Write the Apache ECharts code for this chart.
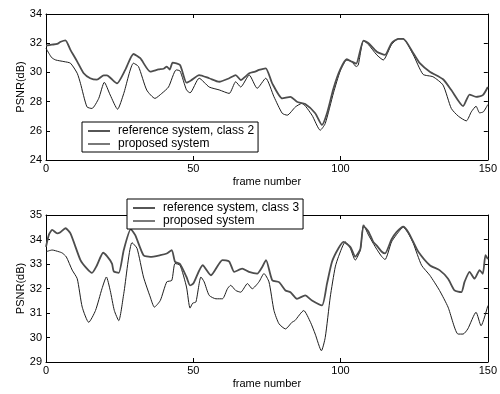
<!DOCTYPE html>
<html>
<head>
<meta charset="utf-8">
<script src="https://cdn.jsdelivr.net/npm/echarts@6/dist/echarts.min.js"></script>
<style>
  html, body { margin: 0; padding: 0; background: #fff; }
  #psnr-chart { width: 500px; height: 394px; }
</style>
</head>
<body>
<div id="psnr-chart"></div>
<script>
// PSNR per frame, [frame, dB]
var ref_class2 = [[0,31.65],[1,31.3],[2,31.0],[3.3,30.85],[6.1,30.74],[8.3,30.63],[10.6,29.94],[11.7,29.25],[13.9,27.64],[15.6,27.53],[17.9,28.22],[19.8,29.32],[21.8,28.45],[24.3,27.48],[26.4,28.56],[29.7,30.63],[31.4,30.4],[34.2,28.79],[37,28.22],[39.3,28.56],[41.6,29.0],[44.2,30.17],[45.5,30.1],[47.7,28.8],[48.9,28.6],[52,29.6],[55.4,29.0],[58.8,28.8],[62.2,28.56],[64.4,29.36],[66.1,29.0],[69,29.82],[71.7,28.91],[74.6,29.6],[77.4,28.33],[80.2,27.2],[81.9,27.07],[84.7,27.64],[86.9,27.88],[90.3,27.07],[93.1,26.04],[94.8,26.5],[97.6,28.6],[99.9,30.1],[102.1,30.85],[103.8,30.74],[105.3,30.4],[106,30.5],[107.8,32.18],[109.5,31.9],[112.3,31.2],[114.5,30.85],[117.3,31.9],[119.6,32.3],[121.3,32.3],[124.7,31.2],[128,29.87],[131.4,29.7],[134.8,29.13],[137.6,27.53],[140,27.0],[142.7,26.68],[144.4,27.3],[146,27.68],[147.2,27.23],[148.5,27.3],[150,27.8]];
var prop_class2 = [[0,31.84],[2,31.9],[3.8,31.95],[5,32.1],[6.6,32.2],[8.3,31.54],[10.6,30.74],[12.8,29.94],[15,29.6],[17.3,29.5],[19.6,29.8],[20.7,29.8],[22,29.6],[24.1,29.25],[26.9,30.17],[29.7,31.26],[32,30.97],[35.4,30.05],[38.2,30.2],[39.9,30.25],[41,30.4],[42,30.2],[43,30.67],[45.5,30.5],[47.7,29.3],[49.2,29.45],[52,29.82],[55.4,29.6],[58.8,29.36],[62.2,29.6],[64.4,29.82],[66.1,29.48],[69,29.94],[71,30.05],[72.3,30.17],[74.6,30.28],[76.8,29.25],[80.2,28.22],[83,28.33],[85.2,27.99],[88,27.83],[91.4,27.2],[93.7,26.4],[95.4,27.2],[97.6,28.9],[99.9,30.2],[102.1,30.9],[103.8,30.74],[105.3,30.6],[107.8,32.18],[109.5,32.0],[112.3,31.42],[115.1,31.2],[117.3,32.0],[119.6,32.3],[121.3,32.3],[124.7,31.31],[126.9,30.63],[130.3,30.05],[134.8,29.53],[137.6,28.79],[141.6,27.69],[143.8,28.48],[146,28.33],[148.3,28.44],[150,29.0]];
var ref_class3 = [[0,33.5],[2.1,33.57],[4.4,33.5],[5.5,33.45],[6.9,33.29],[8.9,32.75],[10.6,32.4],[12.3,31.24],[14.5,30.62],[16.8,31.1],[19,31.99],[20.5,32.47],[21.8,31.92],[23.2,31.1],[24.7,30.69],[26.4,31.79],[29.2,33.87],[30.9,33.64],[33.1,32.47],[35.4,31.65],[36.8,31.24],[38.8,31.51],[41,32.27],[42.7,32.33],[43.8,33.02],[45.5,32.95],[47.7,32.06],[48.9,31.2],[49.8,31.4],[50.9,31.45],[52.6,32.47],[53.7,32.27],[55.4,31.72],[57.7,31.58],[59.9,31.58],[61.6,31.99],[62.7,32.13],[64.4,31.92],[66.1,31.85],[68.4,32.2],[70,31.99],[72.3,32.27],[74,32.61],[75.7,32.27],[77.4,31.1],[79.1,30.56],[81.3,30.35],[83.5,30.62],[84.5,30.69],[87.5,31.1],[89.8,30.62],[91.4,30.14],[93.5,29.46],[94.8,30.0],[96.5,31.65],[98.2,32.88],[99.3,33.3],[101.6,33.9],[103.3,33.64],[105,33.16],[106.7,33.57],[107.8,34.6],[109.5,34.18],[111.1,33.84],[112.3,33.6],[114,33.3],[115.1,33.18],[117.3,33.9],[119,34.2],[121.3,34.5],[123,34.25],[124.7,33.84],[127.5,32.95],[130.3,32.54],[133.6,31.92],[136.5,31.24],[139.9,30.14],[141.6,30.14],[143.2,30.35],[146,31.03],[147.7,30.48],[150,31.3]];
var prop_class3 = [[0,33.7],[1,34.2],[2.1,34.39],[3.8,34.25],[4.9,34.3],[6.6,34.46],[8.3,34.25],[11.7,33.16],[13.9,32.81],[15.6,32.64],[17.3,32.95],[19.4,33.46],[20.7,33.32],[22.4,33.02],[23,32.7],[24.7,32.64],[26.4,33.57],[28.8,34.42],[30.3,34.18],[33.1,33.36],[35.4,33.29],[38.8,33.36],[41,33.43],[42.7,33.57],[43.8,33.09],[45.5,33.0],[47.7,32.47],[48.9,32.13],[50,32.2],[53.2,32.95],[56,32.54],[59.9,33.16],[62.2,33.1],[63.9,32.68],[66.6,32.81],[68.9,32.68],[71.7,32.61],[73.4,32.88],[74.7,33.16],[76.8,32.34],[79.1,32.26],[81.3,31.92],[83,31.85],[85.2,31.58],[88,31.72],[90.3,31.51],[93.7,31.31],[95.4,32.2],[97.1,33.09],[99.3,33.64],[101,33.9],[103.3,33.7],[105,33.3],[106.7,33.6],[107.8,34.55],[109.5,34.32],[111.1,33.9],[112.3,33.75],[114,33.5],[115.1,33.43],[117.3,34.0],[119,34.3],[121.3,34.52],[123,34.3],[124.7,33.9],[126.4,33.5],[130.3,32.95],[133.6,32.75],[136.5,32.4],[138.7,31.92],[141,31.85],[142.1,32.27],[143.8,32.68],[145.5,32.4],[147.2,32.75],[148.3,32.6],[149.2,33.36],[150,33.2]];

var font = 'Liberation Sans, Arial, sans-serif';
var refColor = '#1e1e1e';
var propColor = '#4d4d4d';

function xAxisCfg(gi, pos, withLabels) {
    return {
        type: 'value', gridIndex: gi, position: pos,
        min: 0, max: 150, interval: 50,
        name: withLabels ? 'frame number' : '',
        nameLocation: 'middle', nameGap: 16,
        nameTextStyle: { fontFamily: font, fontSize: 11, color: '#000' },
        axisLine: { onZero: false, lineStyle: { color: '#000', width: 1 } },
        axisTick: { inside: true, length: 4, lineStyle: { color: '#000' } },
        axisLabel: { show: withLabels, fontFamily: font, fontSize: 11, color: '#000', margin: 3 },
        splitLine: { show: false }
    };
}
function yAxisCfg(gi, pos, mn, mx, step, withLabels) {
    return {
        type: 'value', gridIndex: gi, position: pos,
        min: mn, max: mx, interval: step,
        name: withLabels ? 'PSNR(dB)' : '',
        nameLocation: 'middle', nameGap: 20, nameMoveOverlap: false,
        nameTextStyle: { fontFamily: font, fontSize: 11, color: '#000' },
        axisLine: { onZero: false, lineStyle: { color: '#000', width: 1 } },
        axisTick: { inside: true, length: 4, lineStyle: { color: '#000' } },
        axisLabel: { show: withLabels, fontFamily: font, fontSize: 11, color: '#000', margin: 4 },
        splitLine: { show: false }
    };
}
function lineSeries(name, data, xi, yi, color, w) {
    return {
        name: name, type: 'line', xAxisIndex: xi, yAxisIndex: yi,
        data: data, showSymbol: false, symbol: 'none', smooth: 0.2,
        lineStyle: { color: color, width: w }, itemStyle: { color: color },
        animation: false
    };
}
function legendCfg(left, top, refName) {
    return {
        left: left, top: top, orient: 'vertical',
        data: [
            { name: refName, icon: 'rect', itemStyle: { color: refColor } },
            { name: 'proposed system', icon: 'rect', itemStyle: { color: propColor } }
        ],
        itemWidth: 22, itemHeight: 1.5, itemGap: 1,
        padding: [3, 4, 2, 6],
        backgroundColor: '#fff', borderColor: '#000', borderWidth: 1, borderRadius: 0,
        textStyle: { fontFamily: font, fontSize: 12, color: '#000', padding: [0, 0, 0, 3] },
        selectedMode: false, z: 10
    };
}

var myChart = echarts.init(document.getElementById('psnr-chart'), null, { renderer: 'canvas' });
var option = {
    backgroundColor: '#fff',
    animation: false,
    grid: [
        { left: 46, top: 14, width: 444, height: 146 },
        { left: 46, top: 215, width: 444, height: 147 }
    ],
    legend: [
        legendCfg(82, 122, 'reference system, class 2'),
        legendCfg(127, 199, 'reference system, class 3')
    ],
    xAxis: [
        xAxisCfg(0, 'bottom', true), xAxisCfg(0, 'top', false),
        xAxisCfg(1, 'bottom', true), xAxisCfg(1, 'top', false)
    ],
    yAxis: [
        yAxisCfg(0, 'left', 24, 34, 2, true), yAxisCfg(0, 'right', 24, 34, 2, false),
        yAxisCfg(1, 'left', 29, 35, 1, true), yAxisCfg(1, 'right', 29, 35, 1, false)
    ],
    series: [
        lineSeries('reference system, class 2', ref_class2, 0, 0, refColor, 1),
        lineSeries('proposed system', prop_class2, 0, 0, propColor, 1.8),
        lineSeries('reference system, class 3', ref_class3, 2, 2, refColor, 1),
        lineSeries('proposed system', prop_class3, 2, 2, propColor, 1.8)
    ]
};
myChart.setOption(option);
</script>
</body>
</html>
